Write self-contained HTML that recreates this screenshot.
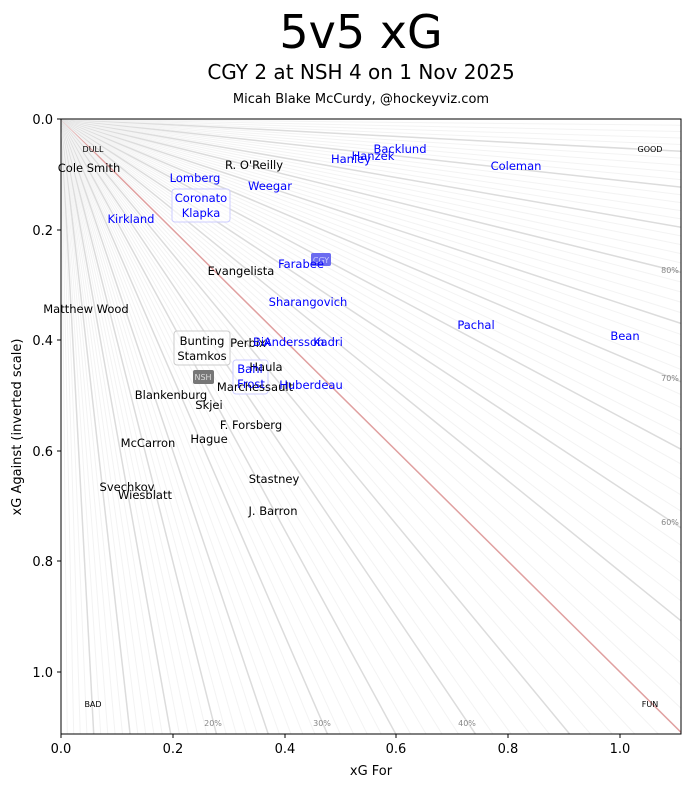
<!DOCTYPE html>
<html><head><meta charset="utf-8"><style>
html,body{margin:0;background:#fff;overflow:hidden;width:691px;height:788px;}
svg{display:block;}
svg text{font-family:"DejaVu Sans","Liberation Sans",sans-serif;}
</style></head><body>
<svg id="s" width="691" height="788" xmlns="http://www.w3.org/2000/svg">
<defs><clipPath id="c"><rect x="61" y="119" width="620" height="615"/></clipPath></defs>
<rect width="691" height="788" fill="#fff"/>
<g id="lines" clip-path="url(#c)"></g>
<text x="361" y="48" font-size="46" text-anchor="middle">5v5 xG</text>
<text x="361" y="79" font-size="20" text-anchor="middle">CGY 2 at NSH 4 on 1 Nov 2025</text>
<text x="361" y="103" font-size="13" text-anchor="middle">Micah Blake McCurdy, @hockeyviz.com</text>
<g font-size="8" fill="#000">
<text x="93" y="152" text-anchor="middle">DULL</text>
<text x="650" y="152" text-anchor="middle">GOOD</text>
<text x="93" y="707" text-anchor="middle">BAD</text>
<text x="650" y="707" text-anchor="middle">FUN</text>
</g>
<g font-size="8" fill="#888">
<text x="213" y="726" text-anchor="middle">20%</text>
<text x="322" y="726" text-anchor="middle">30%</text>
<text x="467" y="726" text-anchor="middle">40%</text>
<text x="670" y="273" text-anchor="middle">80%</text>
<text x="670" y="381" text-anchor="middle">70%</text>
<text x="670" y="525" text-anchor="middle">60%</text>
</g>
<rect x="172" y="189" width="58" height="33" rx="3" fill="#fff" fill-opacity="0.6" stroke="#ccf"/>
<rect x="174" y="331" width="56" height="34" rx="3" fill="#fff" fill-opacity="0.6" stroke="#ccc"/>
<rect x="233" y="360" width="35" height="34" rx="3" fill="#fff" fill-opacity="0.6" stroke="#ccf"/>
<rect x="311" y="253" width="20" height="13" rx="2" fill="#6b6bf0"/>
<text x="321" y="263" font-size="8" fill="#ccf" text-anchor="middle">CGY</text>
<rect x="193" y="370" width="21" height="14" rx="2" fill="#777"/>
<text x="203" y="380" font-size="8" fill="#ddd" text-anchor="middle">NSH</text>
<g font-size="11.5" text-anchor="middle" fill="#000">
<text x="89" y="172">Cole Smith</text>
<text x="254" y="169">R. O'Reilly</text>
<text x="241" y="275">Evangelista</text>
<text x="86" y="313">Matthew Wood</text>
<text x="202" y="345">Bunting</text>
<text x="202" y="360">Stamkos</text>
<text x="248" y="347">Perbix</text>
<text x="266" y="371">Haula</text>
<text x="255" y="391">Marchessault</text>
<text x="171" y="399">Blankenburg</text>
<text x="209" y="409">Skjei</text>
<text x="251" y="429">F. Forsberg</text>
<text x="148" y="447">McCarron</text>
<text x="209" y="443">Hague</text>
<text x="274" y="483">Stastney</text>
<text x="127" y="491">Svechkov</text>
<text x="145" y="499">Wiesblatt</text>
<text x="273" y="515">J. Barron</text>
</g>
<g font-size="11.5" text-anchor="middle" fill="#0000ff">
<text x="400" y="153">Backlund</text>
<text x="373" y="160">Hanzek</text>
<text x="351" y="163">Hanley</text>
<text x="516" y="170">Coleman</text>
<text x="195" y="182">Lomberg</text>
<text x="270" y="190">Weegar</text>
<text x="201" y="202">Coronato</text>
<text x="201" y="217">Klapka</text>
<text x="131" y="223">Kirkland</text>
<text x="301" y="268">Farabee</text>
<text x="308" y="306">Sharangovich</text>
<text x="476" y="329">Pachal</text>
<text x="625" y="340">Bean</text>
<text x="294" y="346">Andersson</text>
<text x="328" y="346">Kadri</text>
<text x="262" y="346">Bix</text>
<text x="250" y="373">Bahl</text>
<text x="251" y="388">Frost</text>
<text x="311" y="389">Huberdeau</text>
</g>
<rect x="61" y="119" width="620" height="615" fill="none" stroke="#000" stroke-width="1"/>
<g font-size="13" fill="#000">
<text x="61" y="753" text-anchor="middle">0.0</text>
<text x="173" y="753" text-anchor="middle">0.2</text>
<text x="285" y="753" text-anchor="middle">0.4</text>
<text x="396" y="753" text-anchor="middle">0.6</text>
<text x="508" y="753" text-anchor="middle">0.8</text>
<text x="620" y="753" text-anchor="middle">1.0</text>
<text x="53" y="124" text-anchor="end">0.0</text>
<text x="53" y="235" text-anchor="end">0.2</text>
<text x="53" y="345" text-anchor="end">0.4</text>
<text x="53" y="456" text-anchor="end">0.6</text>
<text x="53" y="566" text-anchor="end">0.8</text>
<text x="53" y="677" text-anchor="end">1.0</text>
<text x="371" y="775" text-anchor="middle">xG For</text>
<text transform="translate(21,427) rotate(-90)" text-anchor="middle">xG Against (inverted scale)</text>
</g>
<g stroke="#000" stroke-width="1">
<line x1="61" y1="734" x2="61" y2="738"/><line x1="173" y1="734" x2="173" y2="738"/><line x1="285" y1="734" x2="285" y2="738"/><line x1="396" y1="734" x2="396" y2="738"/><line x1="508" y1="734" x2="508" y2="738"/><line x1="620" y1="734" x2="620" y2="738"/>
<line x1="57" y1="119" x2="61" y2="119"/><line x1="57" y1="230" x2="61" y2="230"/><line x1="57" y1="340" x2="61" y2="340"/><line x1="57" y1="451" x2="61" y2="451"/><line x1="57" y1="561" x2="61" y2="561"/><line x1="57" y1="672" x2="61" y2="672"/>
</g>
</svg>
<script>
var g=document.getElementById('lines'),ns='http://www.w3.org/2000/svg';
var sx=558.5,sy=552.5,L=3;
for(var i=1;i<100;i++){var p=i/100;var x=L*p,y=L*(1-p);
var l=document.createElementNS(ns,'line');
l.setAttribute('x1',61);l.setAttribute('y1',119);
l.setAttribute('x2',61+x*sx);l.setAttribute('y2',119+y*sy);
var st='#f3f3f3',w=1;
if(i%5==0){st='#dcdcdc';w=1.5;}
if(i==50){st='#e0a0a0';w=1.5;}
l.setAttribute('stroke',st);l.setAttribute('stroke-width',w);g.appendChild(l);}
</script>
</body></html>
